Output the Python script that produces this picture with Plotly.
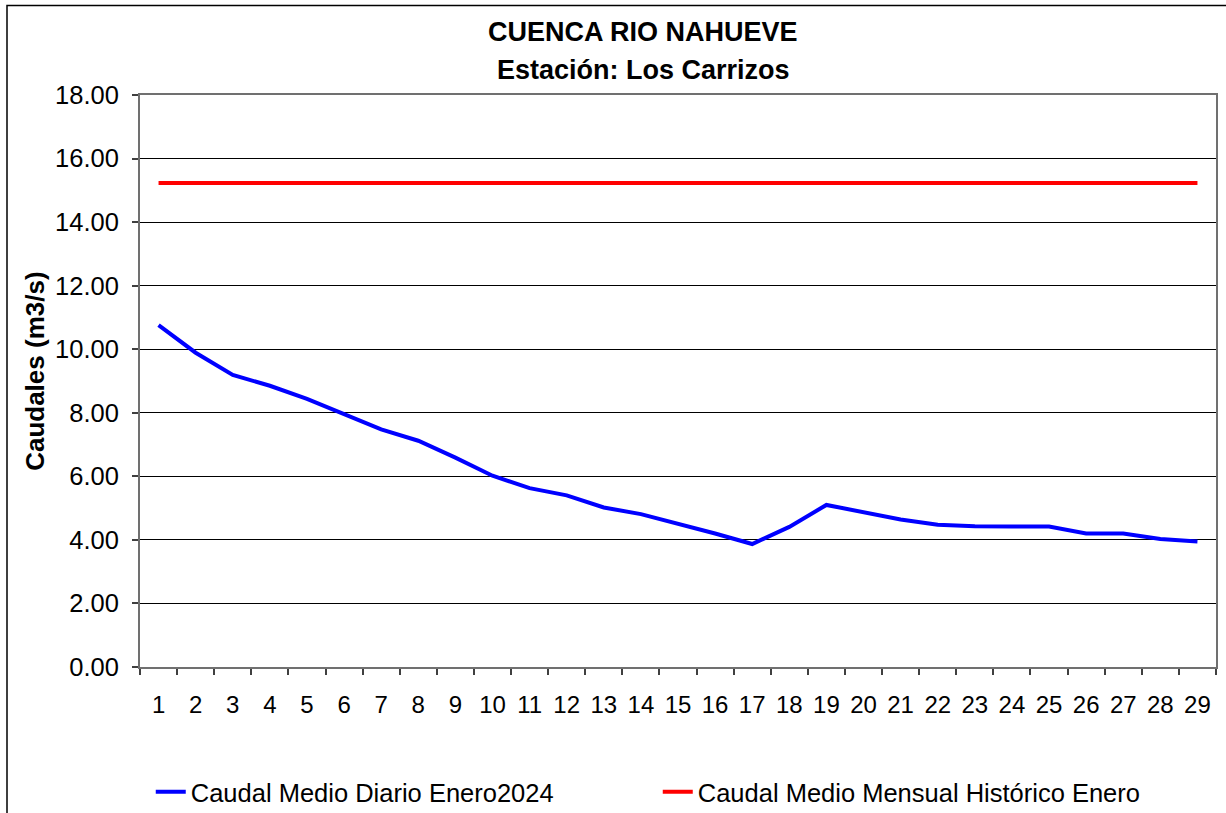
import plotly.graph_objects as go

days = [str(d) for d in range(1, 30)]
caudal_diario = [10.76, 9.89, 9.19, 8.85, 8.44, 7.96, 7.48, 7.12, 6.59, 6.02,
                 5.63, 5.40, 5.02, 4.81, 4.51, 4.20, 3.87, 4.41, 5.10, 4.87,
                 4.64, 4.48, 4.43, 4.42, 4.42, 4.20, 4.20, 4.03, 3.95]
caudal_historico_valor = 15.23
caudal_historico = [caudal_historico_valor] * len(days)
y_ticks = [0, 2, 4, 6, 8, 10, 12, 14, 16, 18]
y_ticklabels = [f"{v:.2f}" for v in y_ticks]

FONT = "Arial, Liberation Sans, sans-serif"

fig = go.Figure()
fig.add_trace(go.Scatter(x=days, y=caudal_diario, mode="lines",
                         name="Caudal Medio Diario Enero2024",
                         line=dict(color="#0000FF", width=4)))
fig.add_trace(go.Scatter(x=days, y=caudal_historico, mode="lines",
                         name="Caudal Medio Mensual Histórico Enero",
                         line=dict(color="#FF0000", width=4)))

fig.update_layout(
    width=1226, height=813,
    margin=dict(l=140, r=10, t=95, b=145.5, autoexpand=False),
    paper_bgcolor="white", plot_bgcolor="white",
    font=dict(family=FONT, color="black", size=25),
    showlegend=True,
    legend=dict(orientation="h", x=0.01, xanchor="left", y=-0.219, yanchor="middle",
                font=dict(size=25.5), entrywidth=462, bgcolor="rgba(0,0,0,0)",
                tracegroupgap=0),
    xaxis=dict(type="category", range=[-0.5, len(days) - 0.5], tickson="boundaries",
               ticks="outside", ticklen=6, tickcolor="#404040", tickwidth=1.5,
               showgrid=False, showline=True, linecolor="#707070", linewidth=2,
               mirror=True, tickfont=dict(size=24), tickangle=0,
               ticklabelstandoff=15, automargin=False),
    yaxis=dict(range=[0, 18], tickvals=y_ticks, ticktext=y_ticklabels,
               ticks="outside", ticklen=6, tickcolor="#404040", tickwidth=1.5,
               showgrid=True, gridcolor="black", gridwidth=1, zeroline=False,
               showline=True, linecolor="#707070", linewidth=2, mirror=True,
               tickfont=dict(size=25.5), ticklabelstandoff=8, automargin=False),
    annotations=[
        dict(text="<b>CUENCA RIO NAHUEVE</b>", xref="paper", yref="paper",
             x=(643 - 140) / 1076, y=(667.5 - 32) / 572.5, showarrow=False,
             xanchor="center", yanchor="middle", font=dict(size=27)),
        dict(text="<b>Estación: Los Carrizos</b>", xref="paper", yref="paper",
             x=(643 - 140) / 1076, y=(667.5 - 70) / 572.5, showarrow=False,
             xanchor="center", yanchor="middle", font=dict(size=27)),
        dict(text="<b>Caudales (m3/s)</b>", xref="paper", yref="paper",
             x=(35 - 140) / 1076, y=0.516, showarrow=False, textangle=-90,
             xanchor="center", yanchor="middle", font=dict(size=26)),
    ],
    shapes=[dict(type="rect", xref="paper", yref="paper",
                 x0=(7 - 140) / 1076, x1=1.1, y0=-0.5, y1=(667.5 - 5.5) / 572.5,
                 line=dict(color="black", width=1.5), fillcolor="rgba(0,0,0,0)",
                 layer="below")],
)

fig.write_html("out.html", config={"displayModeBar": False},
               post_script="document.body.style.margin='0';document.body.style.overflow='hidden';")
